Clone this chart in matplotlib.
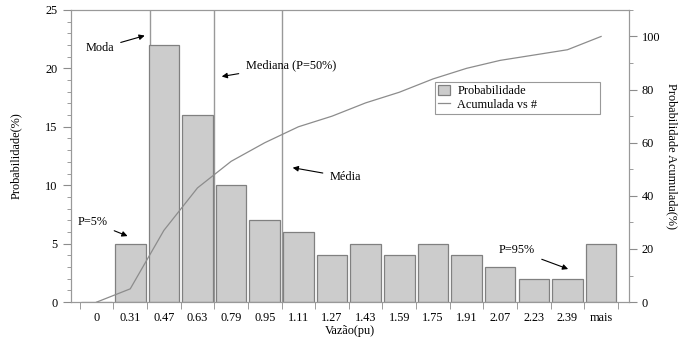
import matplotlib
matplotlib.use("Agg")
import matplotlib.pyplot as plt
import numpy as np

plt.rcParams["font.family"] = ["Liberation Serif", "DejaVu Serif"]
plt.rcParams["font.size"] = 8.8

# Data
categorias = ["0", "0.31", "0.47", "0.63", "0.79", "0.95", "1.11", "1.27",
              "1.43", "1.59", "1.75", "1.91", "2.07", "2.23", "2.39", "mais"]
probabilidade = [0, 5, 22, 16, 10, 7, 6, 4, 5, 4, 5, 4, 3, 2, 2, 5]
acumulada = [0, 5, 27, 43, 53, 60, 66, 70, 75, 79, 84, 88, 91, 93, 95, 100]

# positions of the reference lines (in category index units)
pos_moda = 1.6
pos_mediana = 3.5
pos_media = 5.5

x = np.arange(len(categorias))
cinza = "#8c8c8c"

fig = plt.figure(figsize=(6.8, 3.41), dpi=100)
fig.subplots_adjust(left=0.104, right=0.925, bottom=0.114, top=0.971)
ax = fig.add_subplot(111)
ax2 = ax.twinx()

barras = ax.bar(x, probabilidade, width=0.91, color="#cccccc",
                edgecolor="#808080", linewidth=0.9, label="Probabilidade", zorder=2)
linha, = ax2.plot(x, acumulada, color=cinza, linewidth=0.9, label="Acumulada vs #")

for p in [pos_moda, pos_mediana, pos_media]:
    ax.axvline(p, color="#999999", linewidth=1.0, zorder=1)

ax.set_xlim(-0.77, 15.83)
ax.set_ylim(0, 25)
ax2.set_ylim(0, 110)

ax.set_xticks(x)
ax.set_xticklabels(categorias)
ax.tick_params(axis="x", length=0, pad=7)
ax.set_xticks(np.arange(-0.5, 16, 1), minor=True)
ax.tick_params(axis="x", which="minor", length=5, direction="out", color=cinza)

ax.set_yticks(np.arange(0, 26, 5))
ax.set_yticks(np.arange(0, 26, 1), minor=True)
ax.tick_params(axis="y", which="major", length=6, color=cinza)
ax.tick_params(axis="y", which="minor", length=3, color=cinza)

ax2.set_yticks(np.arange(0, 101, 20))
ax2.set_yticks(np.arange(0, 111, 10), minor=True)
ax2.tick_params(axis="y", which="major", length=6, color=cinza, pad=3)
ax2.tick_params(axis="y", which="minor", length=3, color=cinza)

for a in [ax, ax2]:
    for s in a.spines.values():
        s.set_color("#999999")

ax.set_xlabel("Vazão(pu)", labelpad=1)
ax.set_ylabel("Probabilidade(%)", labelpad=17)
ax2.set_ylabel("Probabilidade Acumulada(%)", rotation=270, va="bottom", labelpad=4)

seta = dict(arrowstyle="-|>", color="black", linewidth=0.8, mutation_scale=8,
            shrinkA=3, shrinkB=0)
ax.annotate("Moda", xy=(1.43, 22.8), xytext=(0.09, 21.7), ha="center", va="center",
            arrowprops=seta)
ax.annotate("Mediana (P=50%)", xy=(3.72, 19.3), xytext=(4.43, 20.3), ha="left",
            va="center", arrowprops=seta)
ax.annotate("Média", xy=(5.83, 11.5), xytext=(6.93, 10.7), ha="left", va="center",
            arrowprops=seta)
ax.annotate("P=5%", xy=(0.92, 5.65), xytext=(-0.12, 6.85), ha="center", va="center",
            arrowprops=seta)
ax.annotate("P=95%", xy=(14.02, 2.83), xytext=(12.5, 4.45), ha="center", va="center",
            arrowprops=seta)

leg = ax2.legend([barras, linha], ["Probabilidade", "Acumulada vs #"],
                 loc="upper left", bbox_to_anchor=(0.652, 0.653, 0.296, 0.1),
                 mode="expand", fancybox=False, framealpha=1, edgecolor="#999999",
                 handlelength=1.0, handleheight=0.9, borderpad=0.25,
                 labelspacing=0.1, handletextpad=0.6, borderaxespad=0)
leg.get_frame().set_linewidth(0.8)

fig.savefig("out.png", dpi=100)
